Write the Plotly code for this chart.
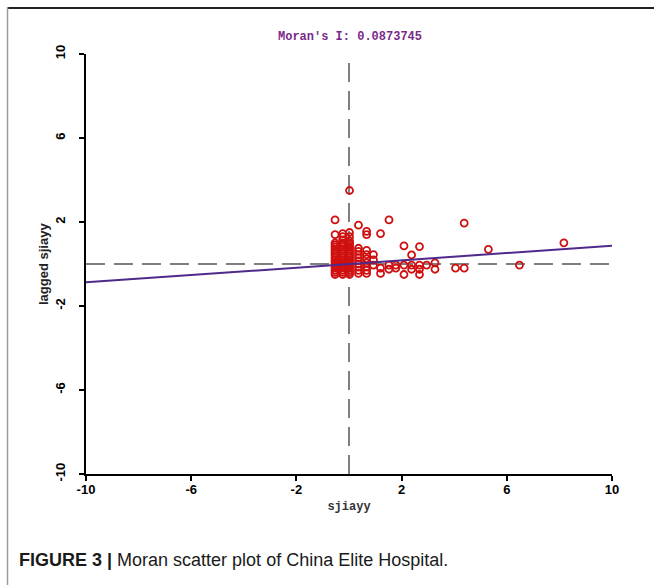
import plotly.graph_objects as go

# ---- data ----
moran_i = 0.0873745

col_a_y = [2.1, 1.4, 1.0, 0.9, 0.8, 0.7, 0.6, 0.5, 0.4, 0.3, 0.2, 0.1, 0.0,
           -0.1, -0.2, -0.3, -0.4, -0.5]
col_b_y = [1.45, 1.3, 1.15, 1.0, 0.9, 0.8, 0.7, 0.6, 0.5, 0.4, 0.3, 0.2, 0.1,
           0.0, -0.1, -0.2, -0.3, -0.4, -0.5]
col_c_y = [3.5, 1.5, 1.3, 1.1, 1.0, 0.9, 0.8, 0.7, 0.6, 0.5, 0.4, 0.3, 0.2,
           0.1, 0.0, -0.1, -0.2, -0.3, -0.4, -0.5]
col_d_y = [1.85, 0.75, 0.6, 0.45, 0.3, 0.15, 0.0, -0.15, -0.3, -0.45]
col_e_y = [1.55, 1.4, 0.65, 0.45, 0.25, 0.05, -0.15, -0.3, -0.45]

pts_x = (
    [-0.53] * len(col_a_y) +
    [-0.24] * len(col_b_y) +
    [0.02] * len(col_c_y) +
    [0.36] * len(col_d_y) +
    [0.67] * len(col_e_y) +
    [0.93] * 3 +
    [1.20] * 3 +
    [1.52] * 3 +
    [1.78] * 2 +
    [2.09] * 3 +
    [2.38] * 3 +
    [2.68] * 4 +
    [2.95] +
    [3.27] * 2 +
    [4.05] +
    [4.38] * 2 +
    [5.30] +
    [6.48] +
    [8.17]
)
pts_y = (
    col_a_y + col_b_y + col_c_y + col_d_y + col_e_y +
    [0.45, 0.2, -0.05] +
    [1.45, -0.2, -0.45] +
    [2.1, -0.05, -0.25] +
    [-0.05, -0.2] +
    [0.86, -0.05, -0.5] +
    [0.43, -0.05, -0.25] +
    [0.83, -0.05, -0.25, -0.5] +
    [-0.05] +
    [0.05, -0.25] +
    [-0.2] +
    [1.95, -0.2] +
    [0.7] +
    [-0.05] +
    [1.01]
)

axis_range = [-10, 10]
tick_vals = [-10, -6, -2, 2, 6, 10]
tick_text = ["-10", "-6", "-2", "2", "6", "10"]
line_x = [-10, 10]
line_y = [moran_i * v for v in line_x]

title_text = "Moran's I: 0.0873745"
x_title = "sjiayy"
y_title = "lagged sjiayy"
caption_bold = "FIGURE 3 |"
caption_rest = " Moran scatter plot of China Elite Hospital."

# ---- figure ----
W, H = 654, 585
L, R, T, B = 86, 42, 54, 111
PW, PH = W - L - R, H - T - B


def px_to_paper_x(px):
    return (px - L) / PW


def py_to_paper_y(py):
    return (H - B - py) / PH


fig = go.Figure()

# quadrant dashed lines
fig.add_trace(go.Scatter(x=[0, 0], y=axis_range, mode="lines",
                         line=dict(color="#7f7f7f", width=2, dash="19px,9px"),
                         hoverinfo="skip", showlegend=False))
fig.add_trace(go.Scatter(x=axis_range, y=[0, 0], mode="lines",
                         line=dict(color="#7f7f7f", width=2, dash="19px,9px"),
                         hoverinfo="skip", showlegend=False))

# points
fig.add_trace(go.Scatter(x=pts_x, y=pts_y, mode="markers",
                         marker=dict(symbol="circle-open", size=7,
                                     color="#d01010", line=dict(width=1.8, color="#d01010")),
                         showlegend=False))

# regression line
fig.add_trace(go.Scatter(x=line_x, y=line_y, mode="lines",
                         line=dict(color="#4f2a8a", width=2),
                         showlegend=False))

mono = "Liberation Mono"
fig.update_layout(
    width=W, height=H,
    margin=dict(l=L, r=R, t=T, b=B, pad=0, autoexpand=False),
    paper_bgcolor="white", plot_bgcolor="white",
    showlegend=False,
    xaxis=dict(range=axis_range, tickvals=tick_vals, ticktext=tick_text,
               showgrid=False, zeroline=False, showline=True, linecolor="black",
               linewidth=2, ticks="outside", ticklen=5, tickwidth=2, tickcolor="black",
               ticklabelstandoff=-3, automargin=False,
               tickfont=dict(family="Liberation Sans", size=13, color="black", weight="bold"),
               title=dict(text=x_title, font=dict(family=mono, size=12, color="#333333", weight="bold"),
                          standoff=6)),
    yaxis=dict(range=axis_range, tickvals=tick_vals, ticktext=tick_text, tickangle=-90,
               showgrid=False, zeroline=False, showline=True, linecolor="black",
               linewidth=2, ticks="outside", ticklen=5, tickwidth=2, tickcolor="black",
               ticklabelstandoff=9, automargin=False,
               tickfont=dict(family="Liberation Sans", size=13, color="black", weight="bold")),
    annotations=[
        dict(text=title_text, xref="paper", yref="paper",
             x=px_to_paper_x(350), y=py_to_paper_y(37),
             showarrow=False, xanchor="center", yanchor="middle",
             font=dict(family=mono, size=12, color="#7a2a8a", weight="bold")),
        dict(text=y_title, xref="paper", yref="paper", textangle=-90,
             x=px_to_paper_x(43), y=py_to_paper_y(264),
             showarrow=False, xanchor="center", yanchor="middle",
             font=dict(family="Liberation Sans", size=13, color="#222222", weight="bold")),
        dict(text="<b>" + caption_bold + "</b>" + caption_rest, xref="paper", yref="paper",
             x=px_to_paper_x(17), y=py_to_paper_y(560),
             showarrow=False, xanchor="left", yanchor="middle",
             font=dict(family="Liberation Sans", size=18, color="#1a1a1a")),
    ],
    shapes=[
        dict(type="line", xref="paper", yref="paper", layer="above",
             x0=px_to_paper_x(7), x1=px_to_paper_x(654),
             y0=py_to_paper_y(8), y1=py_to_paper_y(8),
             line=dict(color="#222222", width=2)),
        dict(type="line", xref="paper", yref="paper", layer="above",
             x0=px_to_paper_x(7.5), x1=px_to_paper_x(7.5),
             y0=py_to_paper_y(7), y1=py_to_paper_y(585),
             line=dict(color="#9a9a9a", width=1.5)),
    ],
)

fig.write_html("out.html", config={"displayModeBar": False},
               post_script="document.body.style.margin='0px';")
